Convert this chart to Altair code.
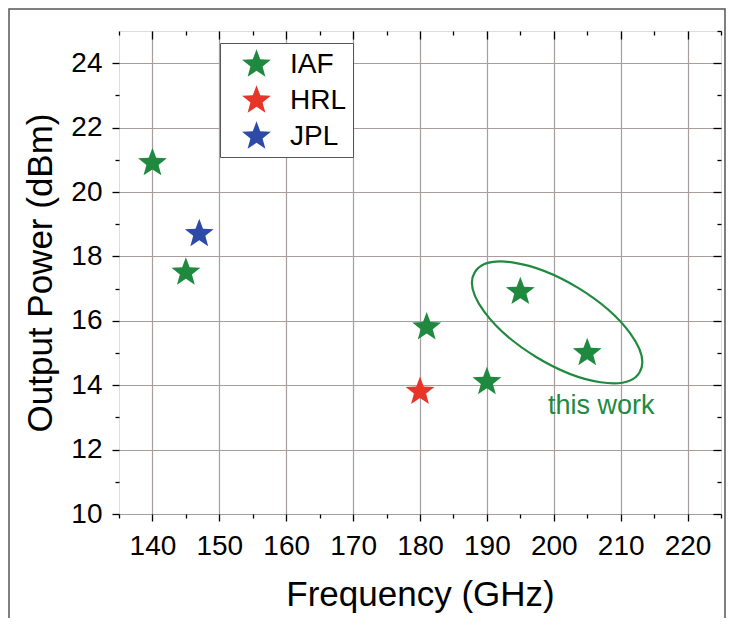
import altair as alt
import pandas as pd

# ---- data ----
groups = ["IAF", "IAF", "IAF", "IAF", "IAF", "IAF", "HRL", "JPL"]
freq_ghz = [140, 145, 181, 190, 195, 205, 180, 147]
power_dbm = [20.9, 17.5, 15.8, 14.1, 16.9, 15.0, 13.8, 18.7]

series_order = ["IAF", "HRL", "JPL"]
series_colors = ["#1f8a3f", "#e8352a", "#2c4aa6"]

x_major = [140, 150, 160, 170, 180, 190, 200, 210, 220]
x_minor = [135, 145, 155, 165, 175, 185, 195, 205, 215, 225]
y_major = [10, 12, 14, 16, 18, 20, 22, 24]
y_minor = [11, 13, 15, 17, 19, 21, 23]

ellipse_f = [200.5]
ellipse_p = [15.95]
note_text = ["this work"]
note_f = [207.1]
note_p = [13.35]

FONT = "Liberation Sans"
GREEN = "#1f8a3f"
GRID = "#a89c9c"

STAR = ("M0,-1 L0.247,-0.34 L0.9511,-0.309 L0.3996,0.1298 L0.5878,0.809 "
        "L0,0.42 L-0.5878,0.809 L-0.3996,0.1298 L-0.9511,-0.309 L-0.247,-0.34 Z")
r = 0.419
k = 0.5523 * r
ELLIPSE = (f"M1,0 C1,{k} 0.5523,{r} 0,{r} C-0.5523,{r} -1,{k} -1,0 "
           f"C-1,{-k} -0.5523,{-r} 0,{-r} C0.5523,{-r} 1,{-k} 1,0 Z")

df = pd.DataFrame({"group": groups, "freq": freq_ghz, "power": power_dbm})
ell_df = pd.DataFrame({"f": ellipse_f, "p": ellipse_p})
note_df = pd.DataFrame({"t": note_text, "f": note_f, "p": note_p})

xs = alt.Scale(domain=[135, 225], nice=False, zero=False)
ys = alt.Scale(domain=[10, 25], nice=False, zero=False)


def inv_axis(orient, values, size):
    return alt.Axis(orient=orient, values=values, tickSize=size, offset=-size,
                    domain=False, labels=False, grid=False, title=None,
                    tickColor="black", tickWidth=1.3)


def minor_axis(orient, values):
    return alt.Axis(orient=orient, values=values, tickSize=4, domain=False,
                    labels=False, grid=False, title=None,
                    tickColor="black", tickWidth=1.3)


stars = alt.Chart(df).mark_point(shape=STAR, filled=True, size=920, opacity=1,
                                 strokeWidth=0).encode(
    x=alt.X("freq:Q", scale=xs, axis=alt.Axis(
        orient="bottom", values=x_major, title="Frequency (GHz)", grid=True,
        gridColor=GRID, gridWidth=1.2, domain=False, tickSize=7, tickColor="black",
        tickWidth=1.3, labelFont=FONT, labelFontSize=28, labelColor="black",
        labelPadding=11, titleFont=FONT, titleFontSize=35, titleFontWeight="normal",
        titleColor="black", titlePadding=17)),
    y=alt.Y("power:Q", scale=ys, axis=alt.Axis(
        orient="left", values=y_major, title="Output Power (dBm)", grid=True,
        gridColor=GRID, gridWidth=1.2, domain=False, tickSize=7, tickColor="black",
        tickWidth=1.3, labelFont=FONT, labelFontSize=28, labelColor="black",
        labelPadding=10, titleFont=FONT, titleFontSize=35, titleFontWeight="normal",
        titleColor="black", titlePadding=12)),
    color=alt.Color("group:N", scale=alt.Scale(domain=series_order, range=series_colors),
                    legend=alt.Legend(
                        title=None, orient="none", legendX=101, legendY=12,
                        padding=6, symbolOffset=15, symbolType=STAR, symbolSize=920,
                        symbolStrokeWidth=0, labelFont=FONT, labelFontSize=28,
                        labelColor="black", labelOffset=18, rowPadding=6,
                        strokeColor="#555555", fillColor="white", cornerRadius=0)),
)

ellipse = alt.Chart(ell_df).mark_point(shape=ELLIPSE, filled=False, size=37200,
                                       angle=31.3, stroke=GREEN, strokeWidth=2.2,
                                       opacity=1).encode(
    x=alt.X("f:Q", scale=xs, axis=minor_axis("bottom", x_minor)),
    y=alt.Y("p:Q", scale=ys, axis=minor_axis("left", y_minor)),
)

note = alt.Chart(note_df).mark_text(font=FONT, fontSize=27, color=GREEN,
                                    align="center", baseline="middle").encode(
    x=alt.X("f:Q", scale=xs, axis=inv_axis("top", x_major, 8)),
    y=alt.Y("p:Q", scale=ys, axis=inv_axis("right", y_major, 8)),
    text="t:N",
)

ghost = alt.Chart(ell_df).mark_point(opacity=0, size=1).encode(
    x=alt.X("f:Q", scale=xs, axis=inv_axis("top", x_minor, 4)),
    y=alt.Y("p:Q", scale=ys, axis=inv_axis("right", y_minor + [25], 4)),
)

frame = alt.Chart(pd.DataFrame({"a": [0]})).mark_rect(
    fillOpacity=0, stroke="#555555", strokeWidth=1.5).encode(
    x=alt.value(-110), x2=alt.value(606), y=alt.value(-22), y2=alt.value(700))

chart = alt.layer(frame, stars, ellipse, note, ghost).resolve_axis(
    x="independent", y="independent"
).properties(
    width=602, height=483, autosize="none",
    padding={"left": 111, "top": 23, "right": 5, "bottom": 104},
).configure_view(stroke="black", strokeWidth=1.6).configure(background="white")

chart.save("out.html", embed_options={"renderer": "svg", "actions": False})
